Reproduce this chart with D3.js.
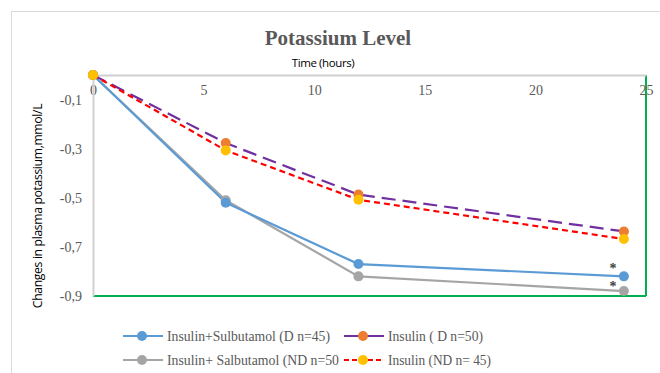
<!DOCTYPE html>
<html>
<head>
<meta charset="utf-8">
<script src="https://cdn.jsdelivr.net/npm/d3@7"></script>
<style>
  body { margin: 0; background: #fff; }
  svg { display: block; }
</style>
</head>
<body>
<svg width="660" height="373"></svg>
<script>
var svg = d3.select("svg"),
    width = +svg.attr("width"),
    height = +svg.attr("height");

var serif = "'Liberation Serif', 'Times New Roman', serif";

// data
var hours = [0, 6, 12, 24];
var xTicks = [0, 5, 10, 15, 20, 25];
var yTicks = [-0.1, -0.3, -0.5, -0.7, -0.9];

var sulbD  = [0, -0.52, -0.77, -0.82];
var insD   = [0, -0.277, -0.487, -0.637];
var salbND = [0, -0.51, -0.82, -0.88];
var insND  = [0, -0.307, -0.508, -0.668];

var names = [
    "Insulin+Sulbutamol (D n=45)",
    "Insulin ( D n=50)",
    "Insulin+ Salbutamol (ND n=50",
    "Insulin (ND n= 45)"
];

var series = [
    { name: names[2], values: salbND, line: "#a5a5a5", dot: "#a5a5a5", dash: null, legDash: null },
    { name: names[0], values: sulbD,  line: "#5b9bd5", dot: "#5b9bd5", dash: null, legDash: null },
    { name: names[1], values: insD,   line: "#7030a0", dot: "#ed7d31", dash: "14,7", legDash: null },
    { name: names[3], values: insND,  line: "#ff0000", dot: "#ffc000", dash: "6,4", legDash: "5,3" }
];

var margin = { left: 93, right: 14, top: 75, bottom: 77 };

var x = d3.scaleLinear().domain([0, 25]).range([margin.left, width - margin.right]);
var y = d3.scaleLinear().domain([-0.9, 0]).range([height - margin.bottom, margin.top]);

// outer chart frame
svg.append("rect")
    .attr("x", 11.5).attr("y", 11.5)
    .attr("width", width).attr("height", height)
    .attr("fill", "none")
    .attr("stroke", "#d9d9d9");

svg.append("text")
    .attr("x", 338).attr("y", 45)
    .attr("text-anchor", "middle")
    .style("font-family", serif)
    .style("font-weight", "bold")
    .style("font-size", "21px")
    .style("fill", "#595959")
    .text("Potassium Level");

svg.append("text")
    .attr("x", 323).attr("y", 67)
    .attr("text-anchor", "middle")
    .style("font-family", "Open Sans, sans-serif")
    .style("font-size", "11.5px")
    .style("letter-spacing", "-0.4px")
    .style("fill", "#000")
    .text("Time (hours)");

svg.append("text")
    .attr("transform", "translate(42,206) rotate(-90)")
    .attr("text-anchor", "middle")
    .style("font-family", "Open Sans, sans-serif")
    .style("font-size", "12.2px")
    .style("letter-spacing", "-0.35px")
    .style("fill", "#000")
    .text("Changes in plasma potassium,mmol/L");

// green right/bottom lines
svg.append("line")
    .attr("x1", x(0)).attr("x2", x(25))
    .attr("y1", y(-0.9)).attr("y2", y(-0.9))
    .attr("stroke", "#00b050").attr("stroke-width", 2);
svg.append("line")
    .attr("x1", x(25)).attr("x2", x(25))
    .attr("y1", y(0)).attr("y2", y(-0.9))
    .attr("stroke", "#00b050").attr("stroke-width", 2);

// axes
var xAxis = svg.append("g")
    .attr("transform", "translate(0," + y(0) + ")")
    .call(d3.axisBottom(x).tickValues(xTicks).tickSize(0).tickPadding(10).tickFormat(d3.format("d")));
var yAxis = svg.append("g")
    .attr("transform", "translate(" + x(0) + ",0)")
    .call(d3.axisLeft(y).tickValues(yTicks).tickSize(0).tickPadding(11)
        .tickFormat(function(d) { return d3.format(".1f")(d).replace("\u2212", "-").replace(".", ","); }));

[xAxis, yAxis].forEach(function(g) {
    g.attr("font-family", serif).attr("font-size", 14);
    g.select(".domain").attr("stroke", "#d0d0d0").attr("stroke-width", 2);
    g.selectAll("text")
        .style("font-family", serif)
        .style("fill", "#595959");
});

var line = d3.line()
    .x(function(d, i) { return x(hours[i]); })
    .y(function(d) { return y(d); });

series.forEach(function(s) {
    svg.append("path")
        .datum(s.values)
        .attr("d", line)
        .attr("fill", "none")
        .attr("stroke", s.line)
        .attr("stroke-width", 2.2)
        .attr("stroke-dasharray", s.dash);
});
series.forEach(function(s) {
    svg.append("g").selectAll("circle")
        .data(s.values)
        .enter().append("circle")
        .attr("cx", function(d, i) { return x(hours[i]); })
        .attr("cy", function(d) { return y(d); })
        .attr("r", 5)
        .attr("fill", s.dot);
});

// significance marks at 24 h
svg.selectAll(".star")
    .data([{ v: sulbD[3], dy: -3 }, { v: salbND[3], dy: 0 }])
    .enter().append("text")
    .attr("x", x(24) - 11)
    .attr("y", function(d) { return y(d.v) + d.dy; })
    .attr("text-anchor", "middle")
    .style("font-family", serif)
    .style("font-size", "14px")
    .style("font-weight", "bold")
    .style("fill", "#404040")
    .text("*");

// legend
var legendItems = [
    { s: series[1], x: 123, y: 336, w: 163 },
    { s: series[2], x: 344, y: 336, w: 95 },
    { s: series[0], x: 123, y: 360, w: 172 },
    { s: series[3], x: 344, y: 360, w: 103 }
];
var leg = svg.append("g").selectAll("g")
    .data(legendItems)
    .enter().append("g")
    .attr("transform", function(d) { return "translate(" + d.x + "," + d.y + ")"; });
leg.append("line")
    .attr("x1", 0).attr("x2", 40)
    .attr("stroke", function(d) { return d.s.line; })
    .attr("stroke-width", 2.2)
    .attr("stroke-dasharray", function(d) { return d.s.legDash; });
leg.append("circle")
    .attr("cx", 19).attr("r", 5)
    .attr("fill", function(d) { return d.s.dot; });
leg.append("text")
    .attr("x", 44).attr("y", 5)
    .attr("textLength", function(d) { return d.w; })
    .attr("lengthAdjust", "spacingAndGlyphs")
    .style("font-family", serif)
    .style("font-size", "15px")
    .style("fill", "#595959")
    .text(function(d) { return d.s.name; });
</script>
</body>
</html>
